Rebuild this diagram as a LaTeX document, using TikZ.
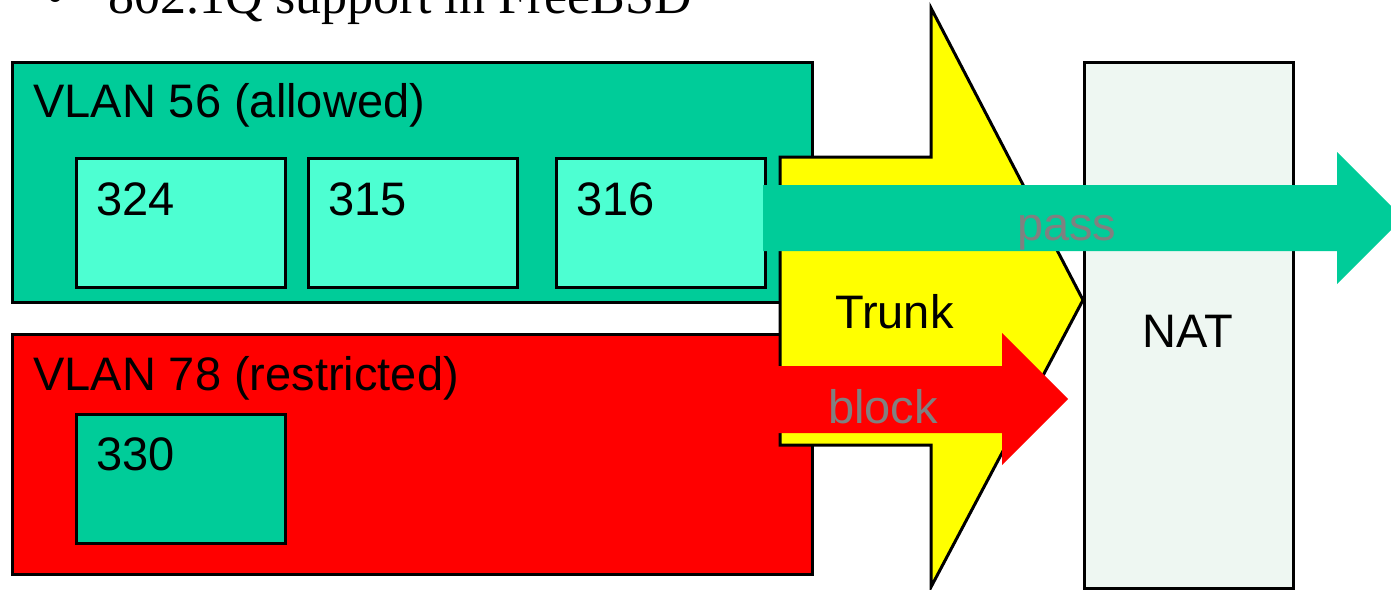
\documentclass[tikz,border=0pt]{standalone}
\usepackage{fontspec}
\setmainfont{Liberation Sans}
\newfontfamily\titleface{Liberation Serif}
\definecolor{vlangreen}{HTML}{00CC99}
\definecolor{hostgreen}{HTML}{4DFFD2}
\definecolor{natfill}{HTML}{EEF7F2}
\definecolor{labelgray}{HTML}{808080}
\definecolor{trunkyellow}{HTML}{FFFF00}
\definecolor{blockred}{HTML}{FF0000}
\begin{document}
\begin{tikzpicture}[x=1pt, y=-1pt, line join=miter,
  box/.style={draw=black, line width=3pt, inner sep=0pt, anchor=north west},
  vlanbox/.style={box, minimum width=800pt, minimum height=240pt},
  hostbox/.style={box, fill=hostgreen, minimum width=209pt, minimum height=129pt},
  lbl/.style={anchor=base west, inner sep=0pt, font=\fontsize{47}{52}\selectfont},
  flowlbl/.style={lbl, text=labelgray},
  outline/.style={draw=black, line width=3pt}]
\useasboundingbox (0,0) rectangle (1391,589);

% heading
\node[anchor=base west, inner sep=0pt, font=\titleface\fontsize{52}{56}\selectfont] (bullet) at (46,13) {•};
\node[anchor=base west, inner sep=0pt, font=\titleface\fontsize{52}{56}\selectfont] (title) at (108,13) {802.1Q support in FreeBSD};

% VLAN 56 with its hosts
\node[vlanbox, fill=vlangreen] (v56) at (11,61) {};
\node[lbl] (v56lbl) at (33,117) {VLAN 56 (allowed)};
\node[hostbox] (h324) at (75,157) {};
\node[hostbox] (h315) at (307,157) {};
\node[hostbox] (h316) at (555,157) {};
\node[lbl] (t324) at (96,215) {324};
\node[lbl] (t315) at (328,215) {315};
\node[lbl] (t316) at (576,215) {316};

% VLAN 78 with its host
\node[vlanbox, fill=blockred] (v78) at (11,333) {};
\node[lbl] (v78lbl) at (33,390) {VLAN 78 (restricted)};
\node[hostbox, fill=vlangreen] (h330) at (75,413) {};
\node[lbl] (t330) at (96,470) {330};

% trunk
\draw[outline, fill=trunkyellow] (780,157) -- (931,157) -- (931,8) -- (1083,300)
  -- (931,587) -- (931,445) -- (780,445) -- cycle;
\node[lbl] (trunk) at (835,328) {Trunk};

% NAT gateway
\node[box, fill=natfill, minimum width=209pt, minimum height=526pt] (nat) at (1083,61) {};
\node[lbl, anchor=base] (natlbl) at (1187.5,347) {NAT};

% traffic flows
\fill[vlangreen] (763,185) -- (1337,185) -- (1337,152) -- (1403,218)
  -- (1337,284) -- (1337,251) -- (763,251) -- cycle;
\node[flowlbl] (pass) at (1017,240) {pass};
\fill[blockred] (765,366) -- (1002,366) -- (1002,333) -- (1068,399)
  -- (1002,465) -- (1002,433) -- (765,433) -- cycle;
\node[flowlbl] (block) at (828,423) {block};
\end{tikzpicture}
\end{document}
